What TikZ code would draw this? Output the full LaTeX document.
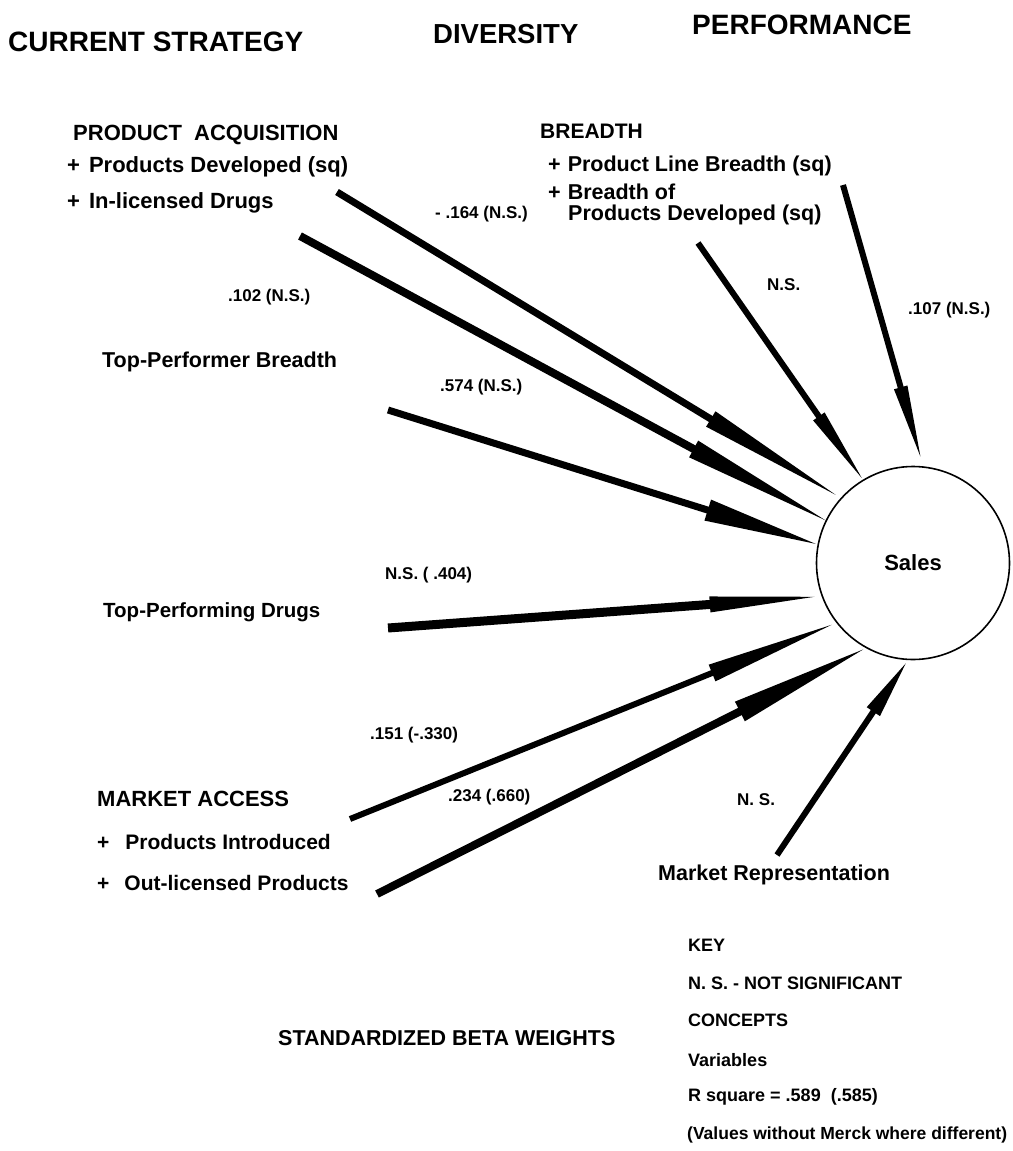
\documentclass[tikz,border=0pt]{standalone}
\usepackage{fontspec}
\setmainfont{Liberation Sans}
\usetikzlibrary{calc}
\tikzset{
  txt/.style={anchor=west,inner sep=0pt,font=\bfseries\fontsize{#1}{#1}\selectfont},
  headfill/.style={fill=black},
}
% #1 start, #2 tip, #3 shaft width, #4 head length, #5 head half width
\newcommand\fatarr[5]{%
  \coordinate (#2b) at ($(#2)!#4!(#1)$);
  \fill[headfill] ($(#2b)!#5!90:(#2)$) -- (#2) -- ($(#2b)!#5!-90:(#2)$) -- cycle;
  \draw[line width=#3] (#1) -- ($(#2b)!6pt!(#2)$);}
\begin{document}
\begin{tikzpicture}[x=1pt,y=-1pt]
\useasboundingbox (0,0) rectangle (1012,1151);
% titles
\node[txt=28] (t1) at (8,42) {CURRENT STRATEGY};
\node[txt=27.5] (t2) at (433,34) {DIVERSITY};
\node[txt=28] (t3) at (692,25) {PERFORMANCE};
% product acquisition
\node[txt=22] (pa) at (73,135) {PRODUCT\ \ ACQUISITION};
\node[txt=22] (pa1) at (67,167) {+\hspace{9pt}Products Developed (sq)};
\node[txt=22] (pa2) at (67,203) {+\hspace{9pt}In-licensed Drugs};
% breadth
\node[txt=21] (br) at (540,131) {BREADTH};
\node[txt=21.5] (br1) at (548,166) {+\hspace{7pt}Product Line Breadth (sq)};
\node[txt=21.5] (br2) at (548,192) {+\hspace{7pt}Breadth of};
\node[txt=21.5] (br3) at (568,215) {Products Developed (sq)};
% other concepts
\node[txt=21.5] (tpb) at (102,362) {Top-Performer Breadth};
\node[txt=20.5] (tpd) at (103,612) {Top-Performing Drugs};
\node[txt=22] (ma) at (97,799) {MARKET ACCESS};
\node[txt=21] (ma1) at (97,842) {+\hspace{16pt}Products Introduced};
\node[txt=21] (ma2) at (97,883) {+\hspace{15pt}Out-licensed Products};
\node[txt=21.5] (mr) at (658,875) {Market Representation};
% sales
\node[circle,draw,line width=1.6pt,minimum size=193pt,inner sep=0pt,
      font=\bfseries\fontsize{22}{22}\selectfont] (sales) at (913,563) {Sales};
% weights
\node[txt=17] (w1) at (435,214) {- .164 (N.S.)};
\node[txt=17] (w2) at (228,297) {.102 (N.S.)};
\node[txt=17] (w3) at (440,387) {.574 (N.S.)};
\node[txt=17] (w4) at (385,575) {N.S. ( .404)};
\node[txt=17] (w5) at (370,735) {.151 (-.330)};
\node[txt=17] (w6) at (448,797) {.234 (.660)};
\node[txt=17] (w7) at (737,800) {N. S.};
\node[txt=17] (w8) at (767,285) {N.S.};
\node[txt=17] (w9) at (908,310) {.107 (N.S.)};
% key
\node[txt=21.5] (sbw) at (278,1038) {STANDARDIZED BETA WEIGHTS};
\node[txt=18] (k1) at (688,945) {KEY};
\node[txt=18] (k2) at (688,983) {N. S. - NOT SIGNIFICANT};
\node[txt=18] (k3) at (688,1020) {CONCEPTS};
\node[txt=18] (k4) at (688,1060) {Variables};
\node[txt=18] (k5) at (688,1097) {R square = .589\ \ (.585)};
\node[txt=17.5] (k6) at (687,1135) {(Values without Merck where different)};
% arrow starts
\coordinate (s1) at (337,192);
\coordinate (s2) at (300,236);
\coordinate (s3) at (388,410);
\coordinate (s4) at (388,628);
\coordinate (s5) at (350,819);
\coordinate (s6) at (377,894);
\coordinate (s7) at (777,855);
\coordinate (s8) at (698,243);
\coordinate (s9) at (843,185);
% arrow tips, next to the Sales circle
\coordinate (e1) at ($(sales.138.6)!6pt!(s1)$);
\coordinate (e2) at ($(sales.154.8)!0pt!(s2)$);
\coordinate (e3) at ($(sales.169.6)!2pt!(s3)$);
\coordinate (e4) at ($(sales.200.2)!7pt!(s4)$);
\coordinate (e5) at ($(sales.218.2)!5pt!(s5)$);
\coordinate (e6) at ($(sales.241.4)!3pt!(s6)$);
\coordinate (e7) at ($(sales.267.7)!4pt!(s7)$);
\coordinate (e8) at ($(sales.121)!2pt!(s8)$);
\coordinate (e9) at ($(sales.84.2)!10pt!(s9)$);
% arrows
\fatarr{s1}{e1}{7pt}{146pt}{9pt}
\fatarr{s2}{e2}{8pt}{150pt}{9.5pt}
\fatarr{s3}{e3}{7pt}{113pt}{11pt}
\fatarr{s4}{e4}{9pt}{105pt}{8pt}
\fatarr{s5}{e5}{6pt}{129pt}{9pt}
\fatarr{s6}{e6}{8pt}{138pt}{11pt}
\fatarr{s7}{e7}{6pt}{58pt}{8pt}
\fatarr{s8}{e8}{6pt}{75pt}{7pt}
\fatarr{s9}{e9}{6pt}{72pt}{7pt}
\end{tikzpicture}
\end{document}
